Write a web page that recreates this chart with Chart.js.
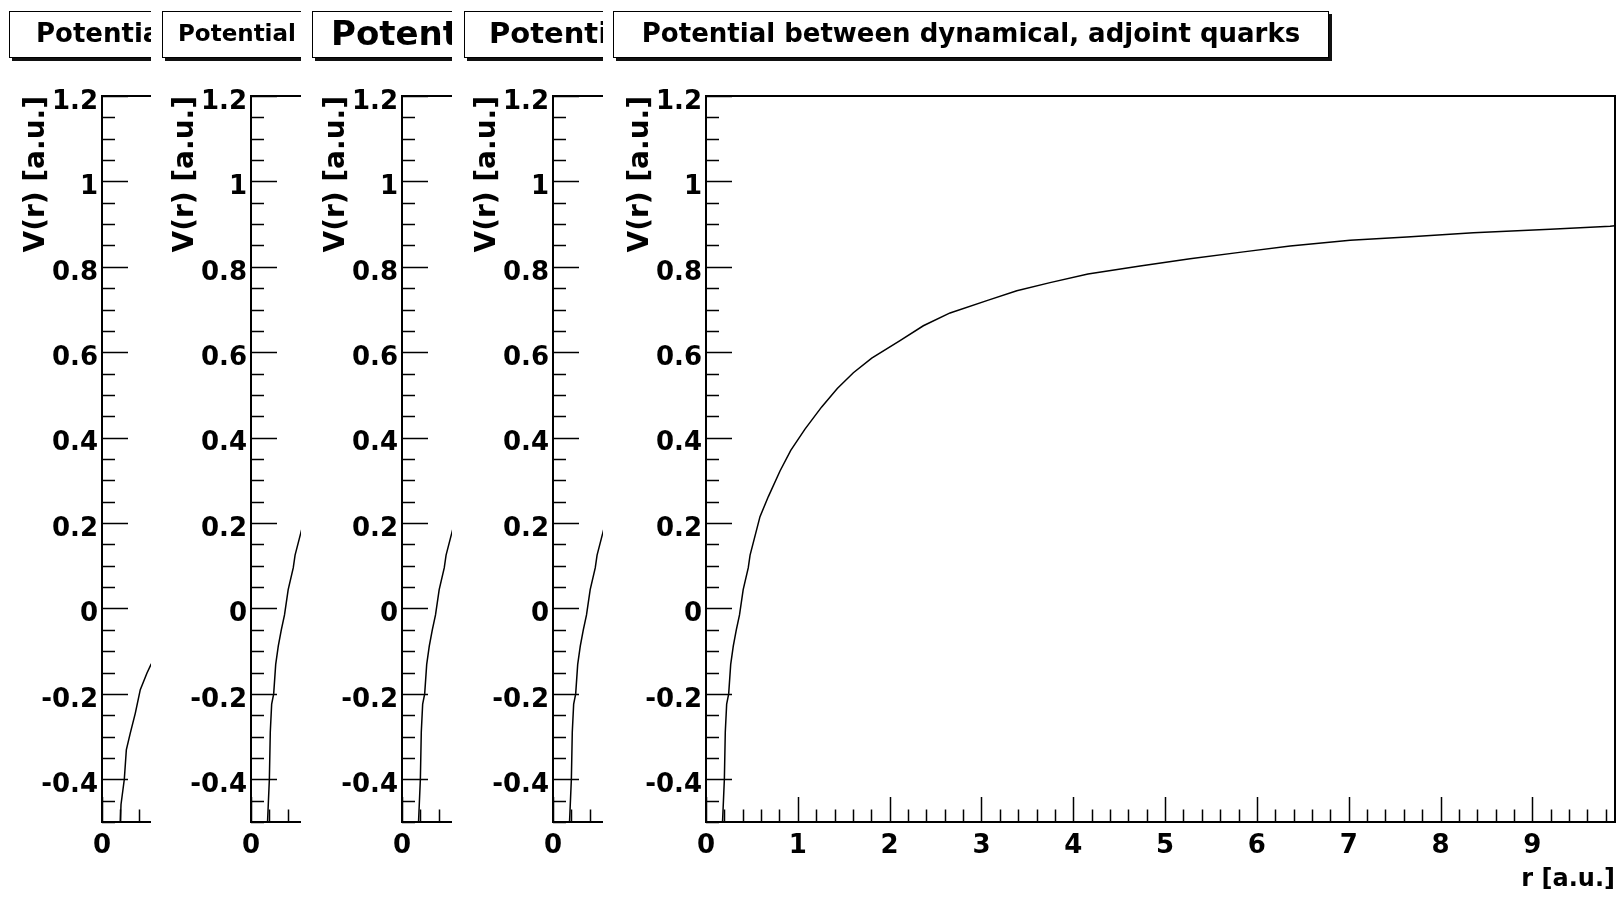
<!DOCTYPE html>
<html>
<head>
<meta charset="utf-8">
<script src="https://cdn.jsdelivr.net/npm/chart.js@4.4.0/dist/chart.umd.min.js"></script>
<style>
  html, body { margin: 0; padding: 0; background: #fff; }
  body { width: 1620px; height: 897px; position: relative; overflow: hidden; font-family: "DejaVu Sans", sans-serif; }
  .pad { position: absolute; top: 0; height: 897px; overflow: hidden; }
  .pad canvas { position: absolute; left: 0; top: 0; }
  .title { position: absolute; top: 11px; height: 47px; line-height: 42px; box-sizing: border-box;
           border: 1.5px solid #000; box-shadow: 3px 3px 0 #111; background: #fff;
           font-weight: bold; white-space: nowrap; color: #000; }
</style>
</head>
<body>

<script>
// curve of the big pad (and pads 2-4)
const rMain = [0.18, 0.19, 0.20, 0.21, 0.225, 0.247, 0.269, 0.297, 0.33, 0.365, 0.405, 0.46, 0.48, 0.534, 0.588,
  0.679, 0.806, 0.923, 1.078, 1.26, 1.43, 1.605, 1.805, 2.113, 2.367, 2.658, 3.075, 3.385, 3.747, 4.16, 4.728,
  5.272, 5.853, 6.362, 7.015, 7.633, 8.358, 9.194, 9.847, 9.9]
const vMain = [-0.5, -0.45, -0.40, -0.29, -0.224, -0.20, -0.131, -0.088, -0.05, -0.015, 0.044, 0.095, 0.125, 0.17, 0.215,
  0.262, 0.322, 0.37, 0.42, 0.472, 0.515, 0.552, 0.586, 0.627, 0.662, 0.692, 0.722, 0.744, 0.763, 0.783, 0.802,
  0.819, 0.835, 0.849, 0.862, 0.870, 0.880, 0.888, 0.895, 0.896]

// first small pad has a flatter curve
const rFirst = [0.20, 0.207, 0.243, 0.265, 0.308, 0.363, 0.417, 0.49, 0.534, 0.6]
const vFirst = [-0.5, -0.459, -0.40, -0.331, -0.292, -0.245, -0.19, -0.151, -0.131, -0.11]

const xTicks = [0, 1, 2, 3, 4, 5, 6, 7, 8, 9]
const yTicks = [-0.4, -0.2, 0, 0.2, 0.4, 0.6, 0.8, 1, 1.2]

const titleText = "Potential between dynamical, adjoint quarks"
const yTitle = "V(r) [a.u.]"
const xTitle = "r [a.u.]"

// pads: where they sit and how their title box looks
const pads = [
  { left: 1,   width: 150,  boxLeft: 8,  boxWidth: 400, font: 26, indent: 26, curve: 'first' },
  { left: 150, width: 151,  boxLeft: 12, boxWidth: 400, font: 23, indent: 15, curve: 'main' },
  { left: 301, width: 151,  boxLeft: 11, boxWidth: 400, font: 34, indent: 18, curve: 'main' },
  { left: 452, width: 151,  boxLeft: 12, boxWidth: 400, font: 29, indent: 24, curve: 'main' },
  { left: 605, width: 1015, boxLeft: 8,  boxWidth: 716, font: 26, indent: 0,  curve: 'main' }
]

const frameTicks = {
  id: 'frameTicks',
  afterDraw(chart) {
    const { ctx, chartArea: a, scales: { x, y } } = chart
    ctx.save()
    ctx.strokeStyle = '#000'
    ctx.lineWidth = 1.5
    ctx.beginPath()
    // y ticks, minor every 0.05
    for (let i = -10; i <= 24; i++) {
      const py = Math.round(y.getPixelForValue(i * 0.05)) + 0.5
      const len = i % 4 === 0 ? 26 : 13
      ctx.moveTo(a.left, py)
      ctx.lineTo(a.left + len, py)
    }
    // x ticks, minor every 0.2
    for (let i = 0; i * 0.2 <= 9.9; i++) {
      const px = Math.round(x.getPixelForValue(i * 0.2)) + 0.5
      const len = i % 5 === 0 ? 25 : 12.5
      ctx.moveTo(px, a.bottom)
      ctx.lineTo(px, a.bottom - len)
    }
    ctx.stroke()
    ctx.lineWidth = 2
    ctx.strokeRect(a.left, a.top, a.right - a.left, a.bottom - a.top)
    ctx.restore()
  }
}

const labelFont = { family: 'DejaVu Sans', size: 26, weight: 'bold' }

function fmt(v) {
  return String(Number(v.toFixed(1)))
}

pads.forEach((p) => {
  const div = document.createElement('div')
  div.className = 'pad'
  div.style.left = p.left + 'px'
  div.style.width = p.width + 'px'

  const canvas = document.createElement('canvas')
  canvas.width = 1015
  canvas.height = 897
  div.appendChild(canvas)

  const box = document.createElement('div')
  box.className = 'title'
  box.style.left = p.boxLeft + 'px'
  box.style.width = p.boxWidth + 'px'
  box.style.fontSize = p.font + 'px'
  if (p.indent) {
    box.style.paddingLeft = p.indent + 'px'
  } else {
    box.style.textAlign = 'center'
  }
  box.textContent = titleText
  div.appendChild(box)
  document.body.appendChild(div)

  const rs = p.curve === 'first' ? rFirst : rMain
  const vs = p.curve === 'first' ? vFirst : vMain

  new Chart(canvas.getContext('2d'), {
    type: 'line',
    data: {
      datasets: [{
        data: rs.map((r, k) => ({ x: r, y: vs[k] })),
        borderColor: '#000',
        borderWidth: 1.5,
        pointRadius: 0,
        tension: 0,
        fill: false
      }]
    },
    options: {
      responsive: false,
      animation: false,
      events: [],
      layout: { padding: { top: 96, right: 5, left: 0, bottom: 0 } },
      plugins: { legend: { display: false }, tooltip: { enabled: false } },
      scales: {
        x: {
          type: 'linear',
          min: 0,
          max: 9.9,
          afterBuildTicks: (axis) => { axis.ticks = xTicks.map(v => ({ value: v })) },
          afterFit: (axis) => { axis.height = 75 },
          grid: { display: false, drawTicks: false },
          border: { display: false },
          ticks: { font: labelFont, color: '#000', padding: 9, maxRotation: 0, autoSkip: false,
                   callback: (v) => fmt(v) },
          title: { display: true, text: xTitle, align: 'end', color: '#000',
                   font: { family: 'DejaVu Sans', size: 24, weight: 'bold' }, padding: { top: 0, bottom: 3 } }
        },
        y: {
          type: 'linear',
          min: -0.5,
          max: 1.2,
          afterBuildTicks: (axis) => { axis.ticks = yTicks.map(v => ({ value: v })) },
          afterFit: (axis) => { axis.width = 101 },
          grid: { display: false, drawTicks: false },
          border: { display: false },
          ticks: { font: labelFont, color: '#000', padding: 4, labelOffset: 6, autoSkip: false,
                   callback: (v) => fmt(v) },
          title: { display: true, text: yTitle, align: 'end', color: '#000',
                   font: { family: 'DejaVu Sans', size: 28, weight: 'bold' }, padding: { top: 19, bottom: 0 } }
        }
      }
    },
    plugins: [frameTicks]
  })
})
</script>
</body>
</html>
